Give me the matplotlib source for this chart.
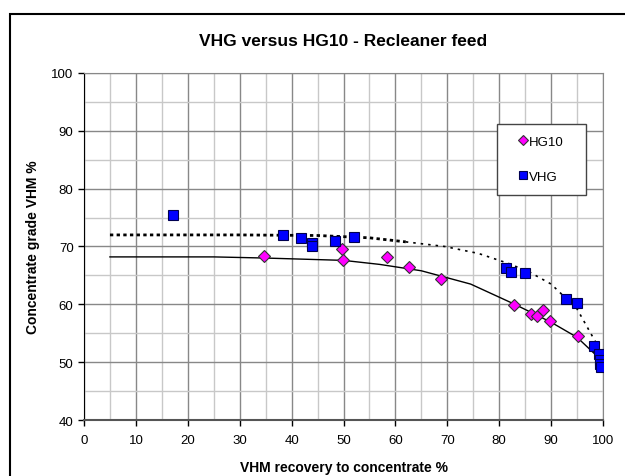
import matplotlib.pyplot as plt
from matplotlib.patches import Rectangle
from matplotlib.ticker import MultipleLocator

plt.rcParams['font.family'] = ['Liberation Sans', 'DejaVu Sans']

# HG10 points (recovery %, grade %)
hg10_x = [34.6, 49.7, 49.9, 58.3, 62.6, 68.7, 82.9, 86.2, 87.3, 88.4, 89.8, 95.1, 100.2]
hg10_y = [68.4, 69.5, 67.7, 68.2, 66.5, 64.4, 59.9, 58.3, 58.0, 59.0, 57.1, 54.5, 50.5]

# VHG points
vhg_x = [17.1, 38.4, 41.9, 43.9, 43.9, 48.3, 52.1, 81.3, 82.2, 85.0, 92.9, 94.9, 98.3, 99.3, 99.4, 99.5, 99.6]
vhg_y = [75.5, 72.0, 71.5, 70.6, 70.0, 71.0, 71.7, 66.3, 65.6, 65.4, 60.9, 60.2, 52.8, 51.4, 50.3, 49.6, 49.2]

# trend curves
hg10_fit_x = [5, 25, 35, 50, 57, 65, 74.5, 83, 90, 95, 99.5]
hg10_fit_y = [68.2, 68.2, 68.0, 67.6, 66.9, 65.8, 63.5, 60.0, 56.9, 54.3, 50.5]
vhg_fit_x = [5, 30, 45, 55, 62, 69.5, 76, 82, 86, 90, 95, 99, 99.7]
vhg_fit_y = [72.0, 72.0, 71.9, 71.5, 70.8, 70.0, 68.8, 67.0, 65.5, 63.5, 59.2, 52.8, 50.0]

fig = plt.figure(figsize=(6.25, 4.77), dpi=100)
ax = fig.add_axes([0.1344, 0.1174, 0.8304, 0.7275])

# outer chart border (cut off at right and bottom)
fig.patches.append(Rectangle((10 / 625, -0.2), 1.2, 1.2 - 15 / 477, transform=fig.transFigure,
                             fill=False, edgecolor='black', linewidth=1.5))

ax.set_xlim(0, 100)
ax.set_ylim(40, 100)
ax.xaxis.set_major_locator(MultipleLocator(10))
ax.yaxis.set_major_locator(MultipleLocator(10))
ax.xaxis.set_minor_locator(MultipleLocator(5))
ax.yaxis.set_minor_locator(MultipleLocator(5))
ax.grid(which='major', color='#888888', linewidth=1.0)
ax.grid(which='minor', color='#c8c8c8', linewidth=1.0)
ax.set_axisbelow(True)
ax.tick_params(which='minor', length=0)
ax.tick_params(which='major', direction='out', length=4, labelsize=9.5, width=1)
ax.tick_params(axis='x', pad=6)
for s in ['top', 'right']:
    ax.spines[s].set_color('#888888')
ax.spines['left'].set_color('black')
ax.spines['bottom'].set_color('#555555')
ax.spines['bottom'].set_linewidth(1.5)

ax.plot(hg10_fit_x, hg10_fit_y, color='black', linewidth=1.0, zorder=2)
ax.plot(vhg_fit_x[:5], vhg_fit_y[:5], color='black', linestyle=(0, (1.2, 1.2)), linewidth=2.0, zorder=2)
ax.plot(vhg_fit_x[4:], vhg_fit_y[4:], color='black', linestyle=(0, (1.5, 3)), linewidth=1.2, zorder=2)

ax.plot(hg10_x, hg10_y, linestyle='none', marker='D', markersize=6, markerfacecolor='#ff00ff',
        markeredgecolor='#333333', markeredgewidth=0.8, label='HG10', zorder=3)
ax.plot(vhg_x, vhg_y, linestyle='none', marker='s', markersize=7, markerfacecolor='#0000ff',
        markeredgecolor='#000050', markeredgewidth=0.8, label='VHG', zorder=3)

ax.set_title('VHG versus HG10 - Recleaner feed', fontsize=12.5, fontweight='bold', pad=20)
ax.set_xlabel('VHM recovery to concentrate %', fontsize=10, fontweight='bold', labelpad=10)
ax.set_ylabel('Concentrate grade VHM %', fontsize=10, fontweight='bold', labelpad=8)

leg = ax.legend(loc='upper left', bbox_to_anchor=(0.7967, 0.853, 0.1715, 0.0), mode='expand',
                fancybox=False, framealpha=1, edgecolor='#444444', fontsize=9.5,
                labelspacing=1.7, borderpad=0.9, handlelength=2.0, handletextpad=-0.5,
                borderaxespad=0, markerscale=0.8)
leg.get_frame().set_linewidth(1.0)

fig.savefig('out.png', dpi=100)
